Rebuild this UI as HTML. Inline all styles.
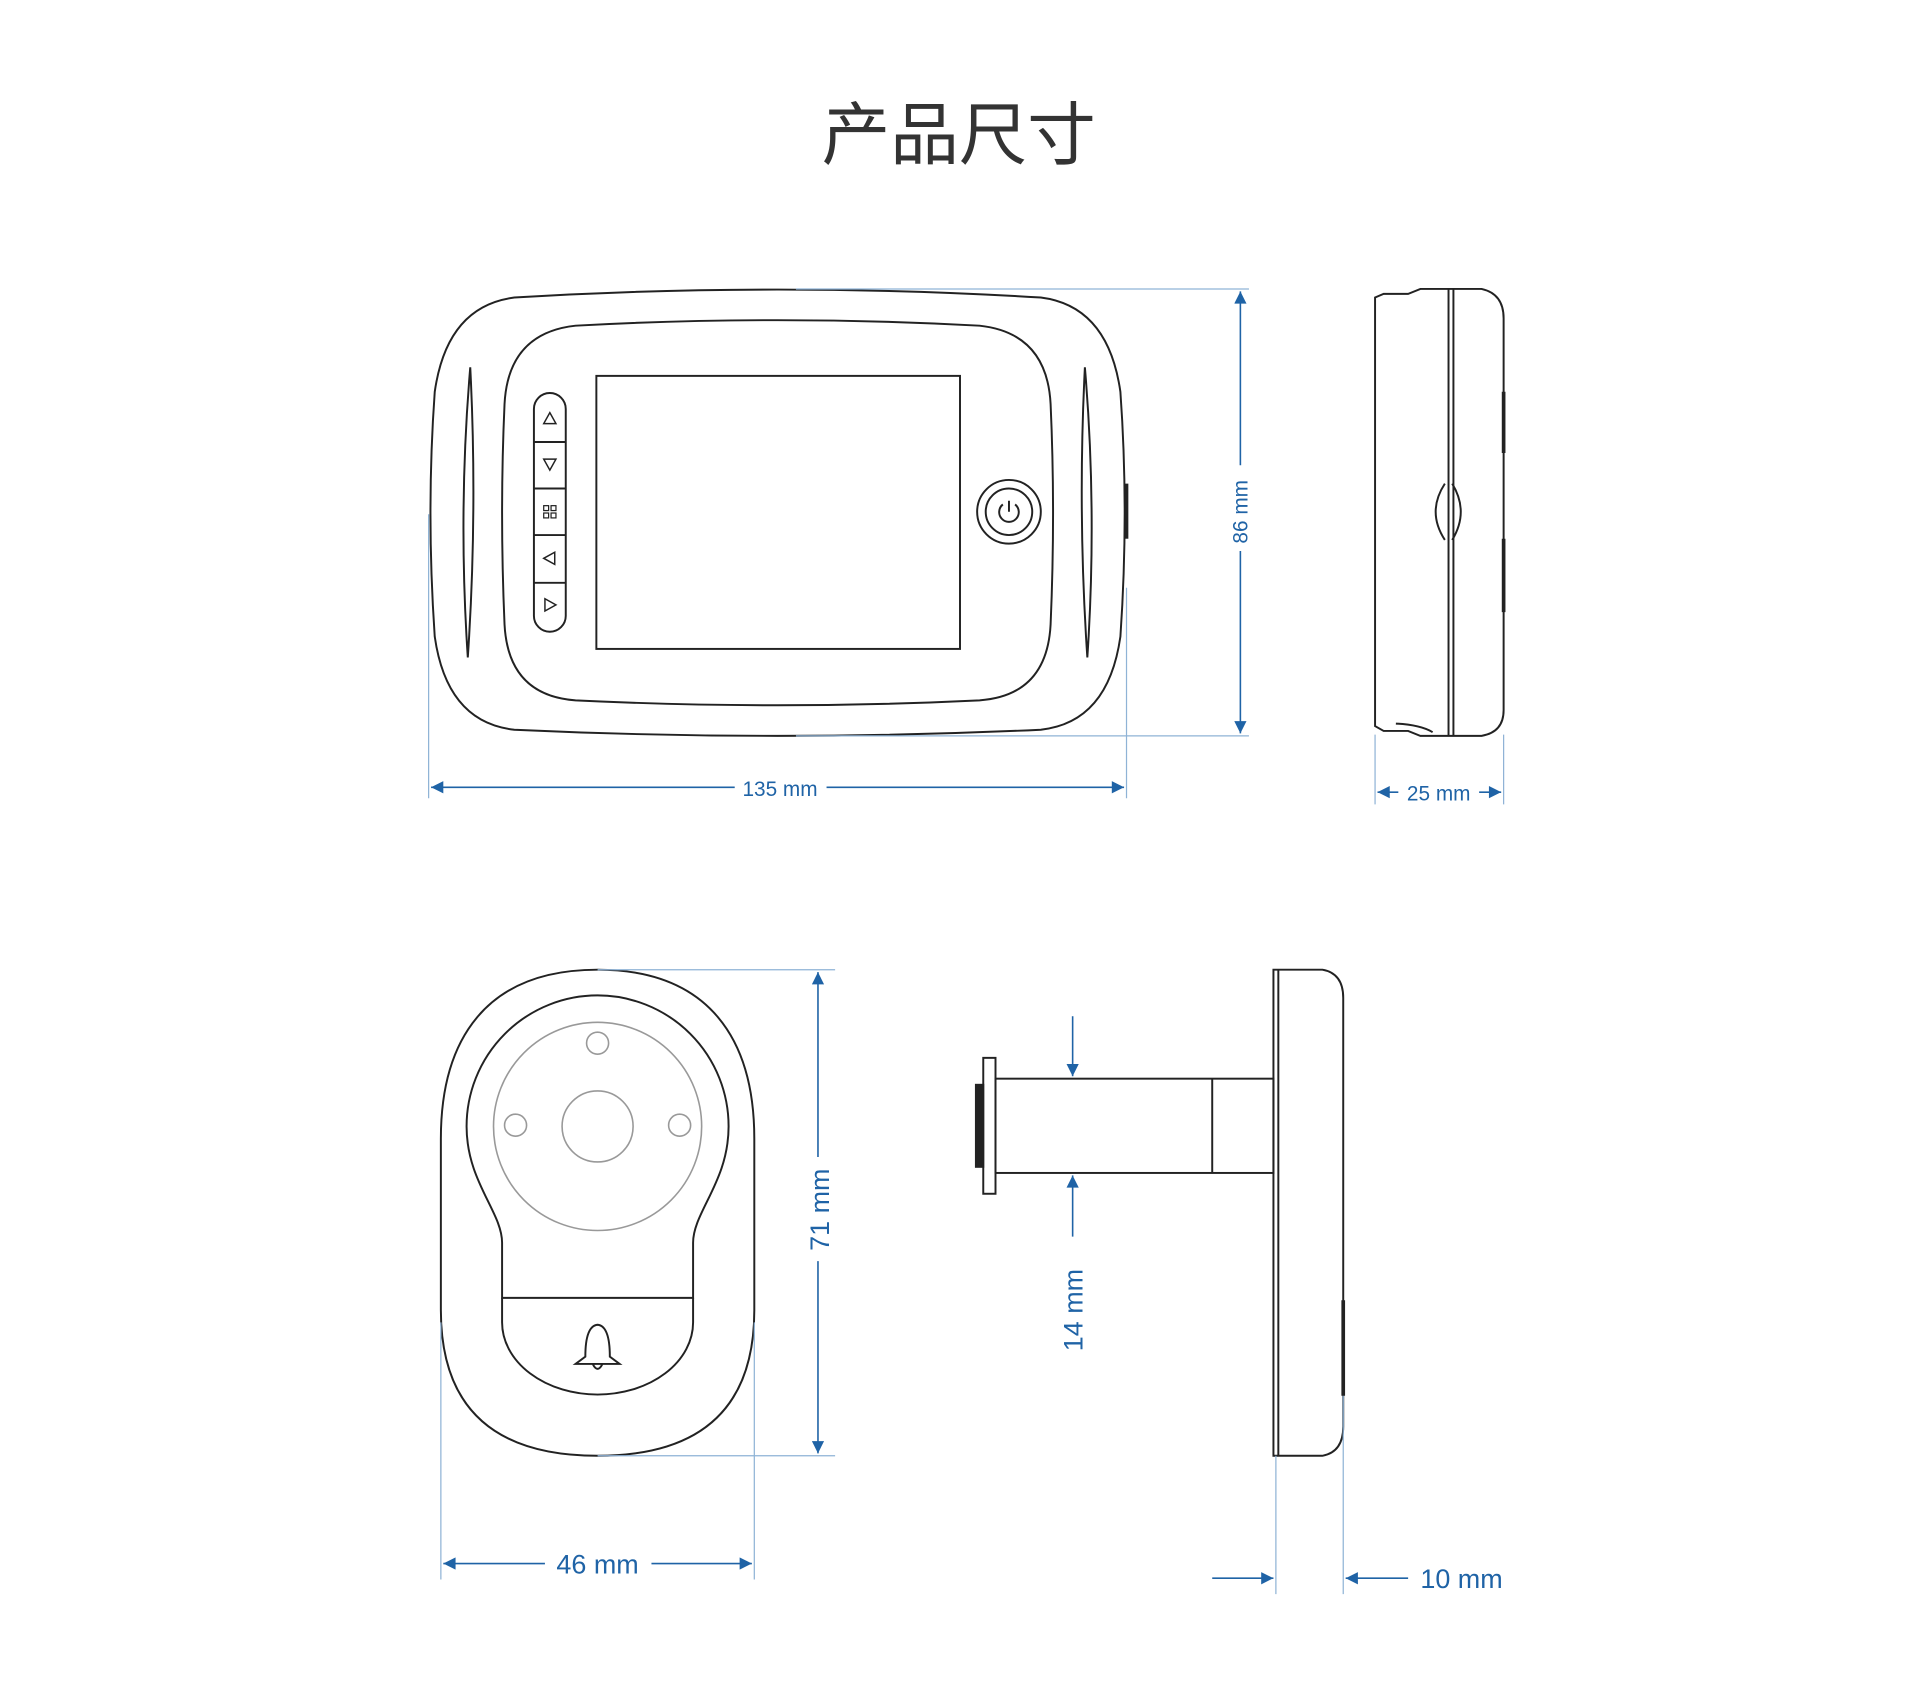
<!DOCTYPE html>
<html><head><meta charset="utf-8"><style>
html,body{margin:0;padding:0;background:#fff;}
svg{display:block;}
text{font-family:"Liberation Sans","Noto Sans CJK SC",sans-serif;}
</style></head><body>
<svg width="1920" height="1708" viewBox="0 0 1568 1395" xmlns="http://www.w3.org/2000/svg">
<defs>
<marker id="a" viewBox="0 0 10 10" refX="10" refY="5" markerWidth="18" markerHeight="10" markerUnits="userSpaceOnUse" orient="auto"><path d="M0,0L10,5L0,10z" fill="#1f63a6"/></marker>
</defs>
<text x="783" y="130" font-size="56" text-anchor="middle" fill="#333">产品尺寸</text>

<g fill="none" stroke="#222" stroke-width="1.6">
<path d="M420,243 Q635,230 850,243 Q905,250 915,320 Q922,418 915,520 Q905,590 850,596 Q635,606 420,596 Q365,590 355,520 Q348,418 355,320 Q365,250 420,243 Z"/>
<path d="M470,266 Q635,257 800,266 Q855,272 858,330 Q862,418 858,510 Q855,568 800,572 Q635,580 470,572 Q415,568 412,510 Q408,418 412,330 Q415,272 470,266 Z"/>
<rect x="487" y="307" width="297" height="223"/>
<rect x="436" y="321" width="26" height="195" rx="13"/>
<path d="M436,361H462M436,399H462M436,437H462M436,476H462"/>
<path d="M449,337L454,346H444Z M449,384L454,375H444Z M444,456L453,451V461Z M454,494L445,489V499Z" stroke-width="1.2"/>
<rect x="444" y="413" width="4" height="4" stroke-width="1"/><rect x="450" y="413" width="4" height="4" stroke-width="1"/><rect x="444" y="419" width="4" height="4" stroke-width="1"/><rect x="450" y="419" width="4" height="4" stroke-width="1"/>
<circle cx="824" cy="418" r="26"/><circle cx="824" cy="418" r="19"/>
<path d="M819,412 A8,8 0 1 0 829,412 M824,409V418" stroke-width="1.6"/>
<path d="M384,300 Q374,418 382,537 Q390,418 384,300Z"/>
<path d="M886,300 Q896,418 888,537 Q880,418 886,300Z"/>
<path d="M920,395 V440" stroke-width="3"/>
<path d="M1123,243 L1130,240 H1150 L1160,236 H1210 Q1228,240 1228,260 V580 Q1228,598 1210,601 H1160 L1150,597 H1130 L1123,593 Z"/>
<path d="M1183,236V601 M1187,236V601"/>
<path d="M1228,320V370 M1228,440V500" stroke-width="3"/>
<path d="M1180,395 Q1165,418 1180,441 M1186,395 Q1200,418 1186,441"/>
<path d="M1140,591 Q1160,592 1170,598" />
<path d="M488,792 C580,792 616,850 616,930 V1070 Q616,1189 488,1189 Q360,1189 360,1070 V930 C360,850 396,792 488,792 Z"/>
<path d="M410,1060 V1015 C410,990 381,965 381,920 A107,107 0 1 1 595,920 C595,965 566,990 566,1015 V1060 Z"/>
<path d="M410,1060 V1080 A78,59 0 0 0 566,1080 V1060"/>
<path d="M478,1108 Q478,1083 488,1082 Q498,1083 498,1108 L506,1114 H470 L478,1108Z M484,1114 Q488,1122 492,1114"/>
<path d="M1040,792 H1080 Q1097,795 1097,815 V1165 Q1097,1186 1080,1189 H1040 Z"/>
<path d="M1044,792V1189"/>
<path d="M1097,1062V1140" stroke-width="3"/>
<rect x="813" y="881" width="227" height="77"/>
<path d="M990,881V958"/>
<rect x="803" y="864" width="10" height="111"/>
<rect x="797" y="886" width="6" height="67" fill="#222"/>
</g>
<g fill="none" stroke="#999" stroke-width="1.3">
<circle cx="488" cy="920" r="85"/>
<circle cx="488" cy="920" r="29"/>
<circle cx="488" cy="852" r="9"/><circle cx="421" cy="919" r="9"/><circle cx="555" cy="919" r="9"/>
</g>

<g stroke="#8fb3d6" stroke-width="1" fill="none">
<path d="M650,236H1020 M650,601H1020 M350,420V652 M920,480V652"/>
<path d="M1123,600V657 M1228,600V657"/>
<path d="M488,792H682 M488,1189H682 M360,1080V1290 M616,1080V1290"/>
<path d="M1042,1189V1302 M1097,1140V1302"/>
</g>
<g stroke="#1f63a6" stroke-width="1.3" fill="none">
<path d="M1013,380V238" marker-end="url(#a)"/><path d="M1013,450V599" marker-end="url(#a)"/>
<path d="M600,643H352" marker-end="url(#a)"/><path d="M675,643H918" marker-end="url(#a)"/>
<path d="M1142,647H1125" marker-end="url(#a)"/><path d="M1208,647H1226" marker-end="url(#a)"/>
<path d="M668,945V794" marker-end="url(#a)"/><path d="M668,1030V1187" marker-end="url(#a)"/>
<path d="M445,1277H362" marker-end="url(#a)"/><path d="M532,1277H614" marker-end="url(#a)"/>
<path d="M876,830V879" marker-end="url(#a)"/><path d="M876,1010V960" marker-end="url(#a)"/>
<path d="M990,1289H1040" marker-end="url(#a)"/><path d="M1150,1289H1099" marker-end="url(#a)"/>
</g>
<g fill="#1f63a6">
<text x="637" y="650" font-size="17" text-anchor="middle">135 mm</text>
<text x="1175" y="654" font-size="17" text-anchor="middle">25 mm</text>
<text transform="translate(1019,418) rotate(-90)" font-size="17" text-anchor="middle">86 mm</text>
<text x="488" y="1285" font-size="22" text-anchor="middle">46 mm</text>
<text transform="translate(677,988) rotate(-90)" font-size="22" text-anchor="middle">71 mm</text>
<text transform="translate(884,1070) rotate(-90)" font-size="22" text-anchor="middle">14 mm</text>
<text x="1160" y="1297" font-size="22">10 mm</text>
</g>
</svg>
</body></html>
